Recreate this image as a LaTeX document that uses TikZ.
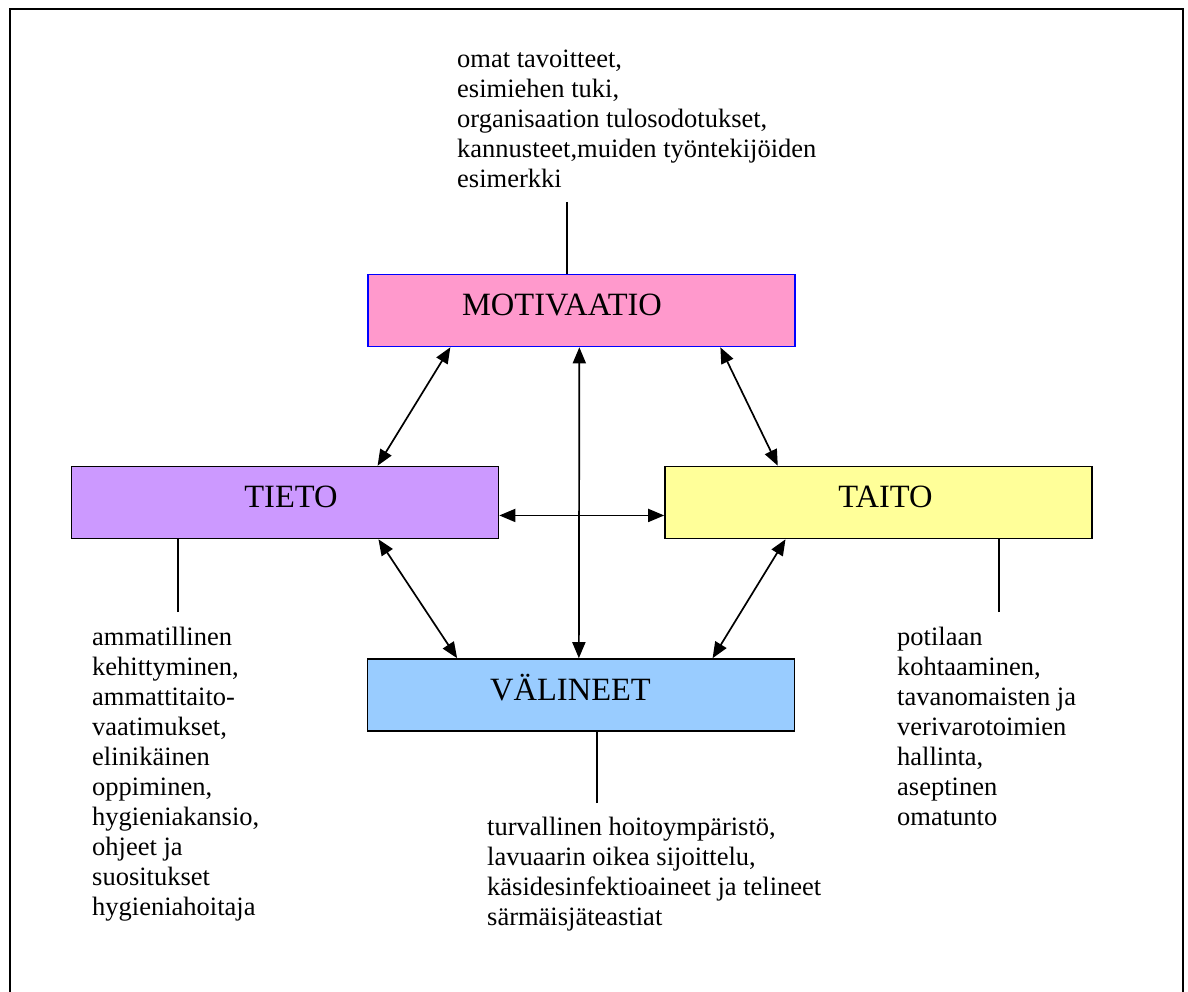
\documentclass[tikz,border=0pt]{standalone}
\usepackage{fontspec}
\setmainfont{Liberation Serif}
\usetikzlibrary{arrows.meta,calc}
\definecolor{motfill}{HTML}{FF99CC}
\definecolor{tietofill}{HTML}{CC99FF}
\definecolor{taitofill}{HTML}{FFFF99}
\definecolor{valifill}{HTML}{99CCFF}
\begin{document}
\begin{tikzpicture}[x=1pt,y=-1pt,
  box/.style={draw=black, line width=1.6pt, inner sep=0pt, minimum width=427pt, minimum height=72pt},
  lbl/.style={anchor=base, inner sep=0pt, font=\fontsize{32.5}{36}\selectfont},
  txt/.style={anchor=base west, inner sep=0pt, font=\fontsize{26.5}{30}\selectfont},
  link/.style={line width=1.3pt},
  dbl/.style={line width=1.7pt, {Triangle[length=16pt,width=13pt]}-{Triangle[length=16pt,width=13pt]}}]
\useasboundingbox (0,0) rectangle (1188,992);
% frame
\draw[line width=2pt] (10,1000) -- (10,9) -- (1183,9) -- (1183,1000);
% boxes
\node[box, fill=motfill, draw=blue] (mot) at (581.5,310.5) {};
\node[box, fill=tietofill] (tieto) at (285,502.5) {};
\node[box, fill=taitofill] (taito) at (878.5,502.5) {};
\node[box, fill=valifill] (vali) at (581,695) {};
% labels
\node[lbl] (motL) at (562,315) {MOTIVAATIO};
\node[lbl] (tietoL) at (291,507) {TIETO};
\node[lbl] (taitoL) at (885.5,507) {TAITO};
\node[lbl] (valiL) at (570.5,700) {VÄLINEET};
% texts
\node[txt] (topT) at (457,68) {\vtop{\hbox{omat tavoitteet,}\hbox{esimiehen tuki,}\hbox{organisaation tulosodotukset,}\hbox{kannusteet,muiden työntekijöiden}\hbox{esimerkki}}};
\node[txt] (leftT) at (92,645) {\vtop{\hbox{ammatillinen}\hbox{kehittyminen,}\hbox{ammattitaito-}\hbox{vaatimukset,}\hbox{elinikäinen}\hbox{oppiminen,}\hbox{hygieniakansio,}\hbox{ohjeet ja}\hbox{suositukset}\hbox{hygieniahoitaja}}};
\node[txt] (rightT) at (897,645) {\vtop{\hbox{potilaan}\hbox{kohtaaminen,}\hbox{tavanomaisten ja}\hbox{verivarotoimien}\hbox{hallinta,}\hbox{aseptinen}\hbox{omatunto}}};
\node[txt] (botT) at (487,835) {\vtop{\hbox{turvallinen hoitoympäristö,}\hbox{lavuaarin oikea sijoittelu,}\hbox{käsidesinfektioaineet ja telineet}\hbox{särmäisjäteastiat}}};
% connector lines
\coordinate (cTop) at (567,202);
\coordinate (cLeft) at (178,612);
\coordinate (cRight) at (999,612);
\coordinate (cBot) at (597,803);
\draw[link] (cTop) -- (cTop |- mot.north);
\draw[link] (cLeft) -- (cLeft |- tieto.south);
\draw[link] (cRight) -- (cRight |- taito.south);
\draw[link] (cBot) -- (cBot |- vali.south);
% arrow end points
\coordinate (m1) at ($(mot.south west)!0.194!(mot.south east)$);
\coordinate (m2) at ($(mot.south west)!0.495!(mot.south east)$);
\coordinate (m3) at ($(mot.south west)!0.824!(mot.south east)$);
\coordinate (t1) at ($(tieto.north west)!0.716!(tieto.north east)$);
\coordinate (t2) at ($(tieto.south west)!0.718!(tieto.south east)$);
\coordinate (t3) at ($(tieto.north east)!0.676!(tieto.south east)$);
\coordinate (a1) at ($(taito.north west)!0.265!(taito.north east)$);
\coordinate (a2) at ($(taito.south west)!0.283!(taito.south east)$);
\coordinate (a3) at ($(taito.north west)!0.676!(taito.south west)$);
\coordinate (v1) at ($(vali.north west)!0.211!(vali.north east)$);
\coordinate (v2) at ($(vali.north west)!0.495!(vali.north east)$);
\coordinate (v3) at ($(vali.north west)!0.807!(vali.north east)$);
% arrows
\draw[dbl] (m1) -- (t1);
\draw[dbl] (m2) -- (v2);
\draw[dbl] (m3) -- (a1);
\draw[dbl] (t3) -- (a3);
\draw[dbl] (t2) -- (v1);
\draw[dbl] (a2) -- (v3);
\end{tikzpicture}
\end{document}
